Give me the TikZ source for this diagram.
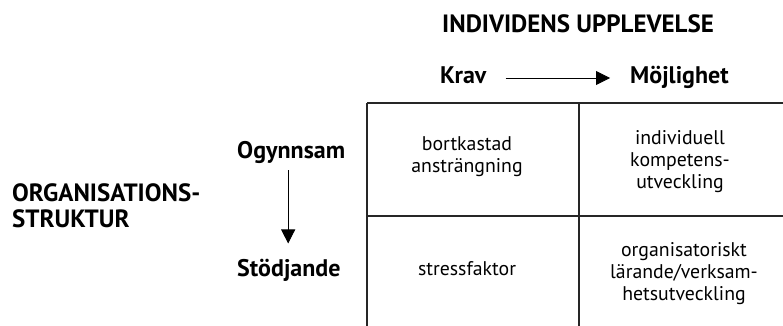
\documentclass[tikz,border=0pt]{standalone}
\usepackage{fontspec}
\setmainfont{PT Sans}
\usetikzlibrary{arrows.meta}

\begin{document}
\begin{tikzpicture}[x=1pt,y=-1pt]
    % Define styles
    \tikzstyle{heading} = [inner sep=0pt, font=\fontsize{25}{26}\selectfont\bfseries, align=left]
    \tikzstyle{label} = [inner sep=0pt, font=\fontsize{24}{26}\selectfont\bfseries]
    \tikzstyle{cell} = [inner sep=0pt, font=\fontsize{19.8}{22}\selectfont, align=center]
    \tikzstyle{rule} = [line width=1.1pt, black!85]
    \tikzstyle{arrow} = [line width=0.8pt, -{Triangle[length=14pt,width=14pt]}]

    \useasboundingbox (0,0) rectangle (783,326);

    % Headings
    \node [heading, anchor=base west] (indiv) at (442,33) {INDIVIDENS UPPLEVELSE};
    \node [heading, anchor=west] (org) at (12,205.5) {ORGANISATIONS-\\STRUKTUR};

    % Scale labels
    \node [label, anchor=base west] (krav) at (440,84) {Krav};
    \node [label, anchor=base west] (mojl) at (630,84) {Möjlighet};
    \node [label, anchor=base west] (ogyn) at (237,158) {Ogynnsam};
    \node [label, anchor=base west] (stod) at (237,276) {Stödjande};

    % Table
    \draw [rule] (367,103) -- (783,103);
    \draw [rule] (367,216) -- (783,216);
    \draw [rule] (367,103) -- (367,326);
    \draw [rule] (579,103) -- (579,326);

    % Cells
    \node [cell] (waste) at (467,157) {bortkastad\\ansträngning};
    \node [cell] (indcomp) at (680,162) {individuell\\kompetens-\\utveckling};
    \node [cell] (stress) at (467,268.5) {stressfaktor};
    \node [cell] (orglearn) at (684,273.5) {organisatoriskt\\lärande/verksam-\\hetsutveckling};

    % Arrows
    \draw [arrow, shorten <=19pt, shorten >=20pt] ([yshift=6pt]krav.base east) -- ([yshift=6pt]krav.base east -| mojl.west);
    \draw [arrow, shorten <=7pt, shorten >=15pt] ([xshift=-3pt]ogyn.south) -- ([xshift=-3pt]ogyn.south |- stod.north);
\end{tikzpicture}
\end{document}
